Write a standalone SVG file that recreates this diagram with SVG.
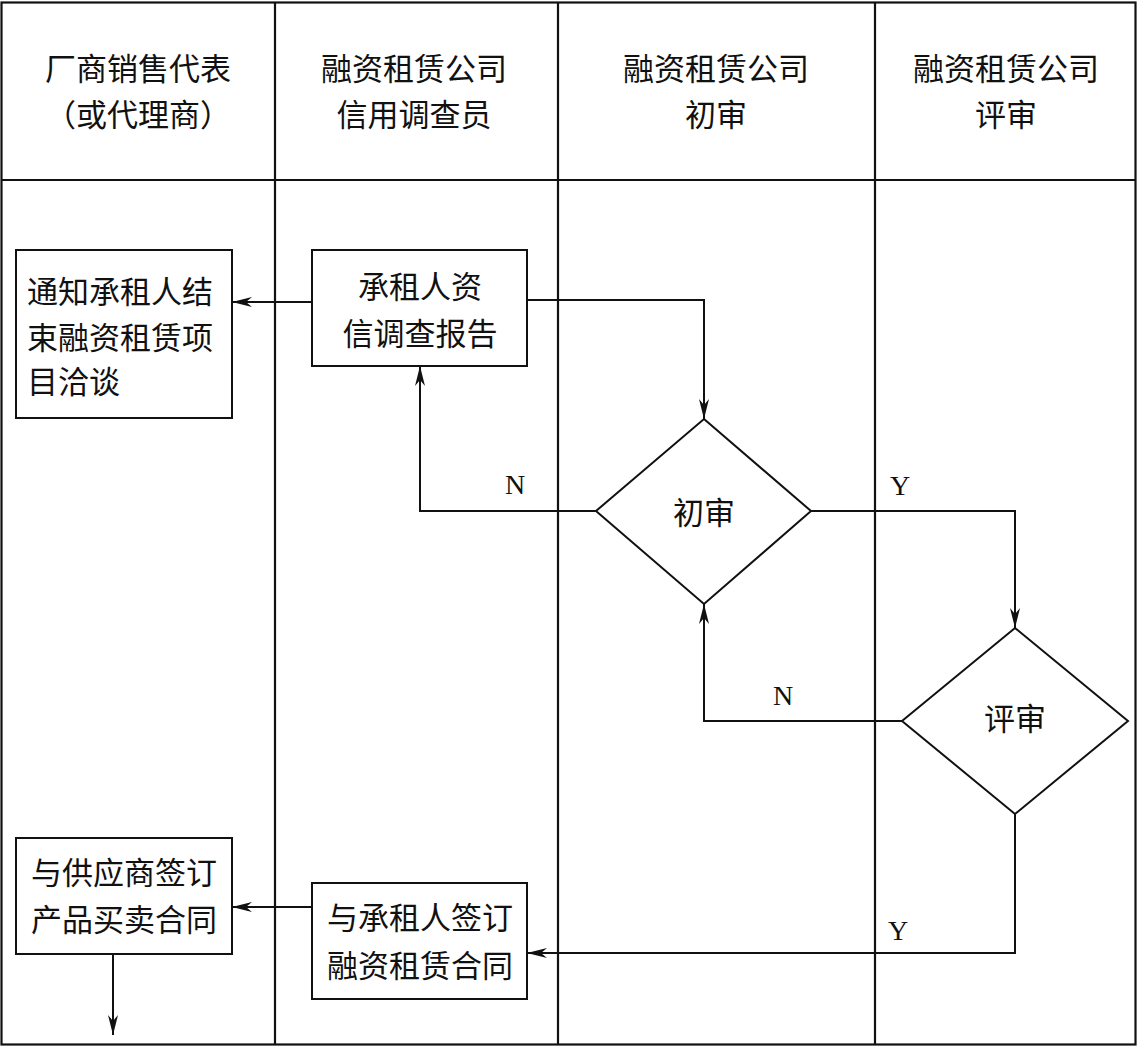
<svg xmlns="http://www.w3.org/2000/svg" width="1137" height="1047" viewBox="0 0 1137 1047">
<style>
.lane{fill:none;stroke:#111;stroke-width:2.2}
.box{fill:#fff;stroke:#111;stroke-width:2}
.t{font-family:"Noto Sans CJK SC","Noto Sans CJK JP",sans-serif;font-size:31px;fill:#111}
.c{text-anchor:middle}
.yn{font-family:"Liberation Serif",serif;font-size:28px;fill:#111;text-anchor:middle}
.con{fill:none;stroke:#111;stroke-width:2}
</style>
<defs>
<marker id="arr" viewBox="0 0 20 10" refX="20" refY="5" markerWidth="20" markerHeight="10" markerUnits="userSpaceOnUse" orient="auto">
<path d="M0,0 L20,5 L0,10 L6,5 Z" fill="#111"/>
</marker>
</defs>
<rect width="1137" height="1047" fill="#fff"/>
<g id="lanes">
<rect class="lane" x="1.5" y="2.5" width="1134" height="1042"/>
<line class="lane" x1="1" y1="180" x2="1136" y2="180"/>
<line class="lane" x1="275" y1="2" x2="275" y2="1045"/>
<line class="lane" x1="558" y1="2" x2="558" y2="1045"/>
<line class="lane" x1="875" y1="2" x2="875" y2="1045"/>
</g>
<g id="headers">
<text class="t c" x="138" y="80">厂商销售代表</text>
<text class="t c" x="138" y="126">（或代理商）</text>
<text class="t c" x="414" y="80">融资租赁公司</text>
<text class="t c" x="414" y="126">信用调查员</text>
<text class="t c" x="716" y="80">融资租赁公司</text>
<text class="t c" x="716" y="126">初审</text>
<text class="t c" x="1006" y="80">融资租赁公司</text>
<text class="t c" x="1006" y="126">评审</text>
</g>
<g id="connectors">
<path class="con" d="M312,302 H232" marker-end="url(#arr)"/>
<path class="con" d="M527,300 H704 V419" marker-end="url(#arr)"/>
<path class="con" d="M596,511 H420 V366" marker-end="url(#arr)"/>
<path class="con" d="M811,511 H1015 V628" marker-end="url(#arr)"/>
<path class="con" d="M902,721 H704 V604" marker-end="url(#arr)"/>
<path class="con" d="M1015,814 V953 H527" marker-end="url(#arr)"/>
<path class="con" d="M312,907 H232" marker-end="url(#arr)"/>
<path class="con" d="M113,953 V1035" marker-end="url(#arr)"/>
<text class="yn" x="515" y="494">N</text>
<text class="yn" x="900" y="495">Y</text>
<text class="yn" x="783" y="705">N</text>
<text class="yn" x="898" y="940">Y</text>
</g>
<g id="notify">
<rect class="box" x="16" y="250" width="216" height="168"/>
<text class="t" x="27" y="303">通知承租人结</text>
<text class="t" x="27" y="349">束融资租赁项</text>
<text class="t" x="27" y="393">目洽谈</text>
</g>
<g id="report">
<rect class="box" x="312" y="250" width="215" height="116"/>
<text class="t c" x="420" y="298">承租人资</text>
<text class="t c" x="420" y="345">信调查报告</text>
</g>
<g id="prelim">
<polygon class="box" points="704,419 811,511 704,604 596,511"/>
<text class="t c" x="704" y="524">初审</text>
</g>
<g id="review">
<polygon class="box" points="1015,628 1128,721 1015,814 902,721"/>
<text class="t c" x="1015" y="730">评审</text>
</g>
<g id="supplier">
<rect class="box" x="16" y="838" width="216" height="116"/>
<text class="t c" x="124" y="884">与供应商签订</text>
<text class="t c" x="124" y="931">产品买卖合同</text>
</g>
<g id="lease">
<rect class="box" x="312" y="883" width="215" height="116"/>
<text class="t c" x="420" y="929">与承租人签订</text>
<text class="t c" x="420" y="977">融资租赁合同</text>
</g>
</svg>
